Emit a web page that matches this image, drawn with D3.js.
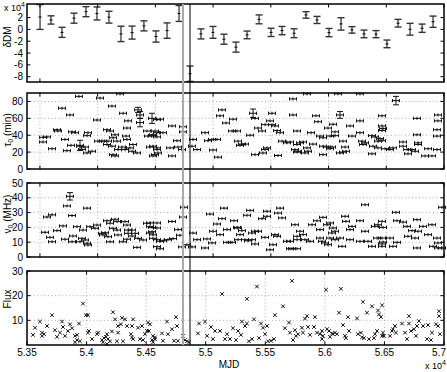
<!DOCTYPE html>
<html>
<head>
<meta charset="utf-8">
<script src="https://cdn.jsdelivr.net/npm/d3@7"></script>
<style>
  body { margin: 0; background: #fff; }
  svg text { font-family: "Liberation Sans Narrow", "Liberation Sans", Arial, sans-serif; fill: #000; }
</style>
</head>
<body>
<div id="chart"></div>
<script>
/**
 * DATA (MJD, values)
 * */
// top panel: DM offsets (x 10^4 units) with errors
const dmMjd = [53501, 53596, 53691, 53795, 53899, 53994, 54098, 54202, 54298, 54401, 54505, 54601, 54705, 54800, 54895, 54999, 55094, 55198, 55294, 55398, 55502, 55597, 55701, 55805, 55900, 56004, 56108, 56203, 56307, 56411, 56506, 56602, 56706, 56810, 56905];
const dmVal = [2.1, 1.6, -0.5, 1.9, 3.0, 2.7, 2.07, -0.76, -0.54, 0.6, -1.2, -0.2, 2.7, -7.5, -0.76, -0.5, -1.66, -3.0, -0.93, 1.7, -0.5, -0.2, -0.65, 2.45, 1.6, -0.54, 0.93, -0.08, -0.76, -0.8, -2.45, 1.05, 0.03, 0.2, 1.3];
const dmErr = [2.1, 0.7, 0.85, 0.85, 0.85, 1.1, 1.0, 1.3, 1.1, 0.85, 0.95, 1.3, 1.35, 1.3, 0.85, 1.0, 0.85, 0.85, 0.65, 0.75, 0.7, 0.7, 0.75, 0.55, 0.6, 0.7, 1.05, 0.55, 0.65, 0.6, 0.65, 0.65, 1.0, 0.7, 0.95];

// tau_0 (min): [mjd, value, vertical error (optional)]
const tauObs = [
  [53527,37.5],[53527,32],[53561,38],[53605,24],[53691,72],[53648,46.5],[53656,45],[53717,35],[53734,21.7],[53760,64],
  [53778,44],[53804,43],[53769,28],[53838,86],[53847,27],[53864,23],[53890,26],[53908,19],[53916,43],[53908,39.5],
  [53951,21],[53847,28,6],[53994,58],[54020,84],[54003,33],[54046,33],[54081,29],[54090,33],[54124,74.5],[54081,46.5],
  [54107,45],[54133,37],[54150,40.5],[54168,33],[54124,27],[54133,17],[54150,15.5],[54176,23],[54194,89],[54211,26],
  [54220,66],[54254,48.5],[54246,39],[54254,35],[54263,57],[54237,23],[54280,25],[54298,21],[54306,29],[54341,19],
  [54350,70,3],[54367,64,4],[54367,55,5],[54427,45],[54436,39],[54471,60,6],[54514,58.5],[54479,40.5],[54514,43],[54479,27],
  [54514,25],[54497,17],
  [54540,59],[54644,51],[54739,50],[54739,44],[54497,45],[54566,43],[54930,43],[55164,45],[55207,45],[55493,57],
  [55510,52.5],[55450,52.5],[55536,51],[55389,48.5],[55424,45],[55554,45.5],[55580,43],[55727,45],[55320,40],[54471,39.5],
  [54514,38],[54687,33.5],[54826,35],[54956,33.5],[54990,35],[55034,35],[55216,33],[55250,29.5],[55276,29.5],[55233,28],
  [55597,33],[55640,31],[55666,32],[55727,29],[54453,26],[54514,23],[54523,19],[54479,15.5],[54627,25],[54696,26],
  [54731,23],[54817,27],[54861,23],[54644,15.5],[54999,22.5],[55042,14],[55363,17],[55450,23],[55467,25],[55432,19],
  [55562,16],[55709,23],[55727,20],[55692,83],[55346,66,5],[55510,66],[55692,64],[55077,70],[55060,63],[55172,59],
  [55112,54.5],[55363,60],
  [55813,89],[56082,89],[56272,89],[56584,81,5],[56099,64,4],[55891,63],[56463,63],[56766,60],[56948,64],[55909,56],
  [56039,53],[56272,57],[56186,51],[56463,51],[56948,57],[55995,48.5],[56472,48],[55848,43],[56056,44],[56463,45.5],
  [56939,46.5],[55926,39],[55952,37],[56013,39],[56056,39.5],[56203,39],[56272,43],[56376,39.5],[56402,38],[56446,36],
  [56766,40.5],[56939,39],[55753,31],[55779,32],[55865,29.5],[56125,33],[56290,33],[56316,31],[56428,33],[56463,33.5],
  [56645,32],[56775,31],[55735,21],[55813,25],[55822,21],[55796,19],[55952,27],[55987,26],[56030,26],[56013,24],
  [56143,26],[56151,21],[56099,19],[56125,20],[55952,17],[56298,29],[56385,27],[56428,25],[56489,24],[56376,18],
  [56532,23],[56558,25],[56680,23],[56688,18],[56723,23],[56749,21],[56645,27],[56862,24],[56836,15.5],[56896,15.5],
  [56939,23],[56775,29]
];

// nu_0 (MHz): [mjd, value, vertical error (optional)]
const nuObs = [
  [53544,16.7],[53561,27],[53605,28.5],[53587,13.3],[53605,10.3],[53648,17.8],[53700,21],[53734,34.5],[53760,41,2.5],[53778,28],
  [53717,12],[53778,10.3],[53786,14.2],[53821,20.5],[53847,10.3],[53864,12.6],[53890,11.5],[53908,9.3],[53916,8.1],[53873,18.2],
  [53908,33],[53934,20.5],[53994,21.6],[53977,19.4],[54038,16],[54046,14.9],[54064,16.4],[54090,13.7],[54107,10.3],[54081,24.5],
  [54107,22.8],[54150,25.5],[54168,23.9],[54133,19.4],[54168,18.2],[54176,14.9],[54237,23.9],[54254,21.6],[54263,18.2],[54220,10.3],
  [54254,12],[54298,18.2],[54298,14.2],[54324,16],[54341,6.5],[54263,16],[54350,12.6],[54393,11.5],[54427,22.8],[54453,20.5],
  [54471,17.1],[54479,12.6],[54514,7],
  [54453,23],[54514,23],[54471,20],[54514,19.6],[54453,16.2],[54479,15],[54696,18.5],[54644,24],[54748,33.6],[54739,27],
  [54514,11.7],[54540,10.6],[54566,11],[54609,11.7],[54653,12.4],[54713,14.7],[54540,5.6],[54731,6.8],[54817,6.8],[54774,8.3],
  [54826,16.2],[54861,11.7],[54930,6.1],[54947,12.2],[54973,29],[54999,17.4],[55034,22.3],[54990,9.5],[55060,15.1],[55077,25.9],
  [55094,33],[55120,18.5],[55120,9.9],[55164,9.9],[55181,24.5],[55207,20],[55216,19.6],[55250,17.8],[55233,15.1],[55216,11.7],
  [55294,28.2],[55320,31.5],[55276,11.7],[55302,11],[55337,16.2],[55363,17.4],[55389,17.4],[55337,11.7],[55363,8.8],[55424,25.9],
  [55467,30.9],[55467,27.5],[55450,13.3],[55493,4.9],[55519,8.3],[55536,15.1],[55554,14],[55562,29.7],[55580,33],[55597,26.4],
  [55640,10.6],[55666,5.6],[55709,21.8],[55727,14],[55727,11.7],[55727,5.6],
  [55666,10.6],[55683,5.6],[55753,17.4],[55779,15.1],[55796,11.7],[55839,10.6],[55857,21.8],[55900,24.5],[55952,26.8],[55926,18.5],
  [55987,21.8],[56013,23],[56039,19.6],[56056,17.4],[56030,16.2],[55926,12.8],[55943,10.6],[55969,9.5],[55995,8.3],[56013,12.8],
  [56056,11.7],[56099,12.8],[56117,7.2],[56143,27.5],[56151,24.1],[56203,20.7],[56186,18.5],[56186,11.7],[56272,24.5],[56316,35.3],
  [56316,17.4],[56272,10.6],[56342,10.6],[56376,7.2],[56420,12.8],[56402,20.7],[56428,21.8],[56463,24.1],[56472,20],[56463,12.8],
  [56472,10.1],[56463,8.8],[56463,7.2],[56532,12.8],[56558,7.2],[56593,9.9],[56584,30.2],[56593,24.5],[56645,23.6],[56680,20.7],
  [56723,17.8],[56688,14],[56749,12.8],[56775,17.4],[56766,25.2],[56766,6.1],[56818,20.7],[56896,21.8],[56862,15.1],[56939,12.8],
  [56948,9.5],[56905,7.2],[56948,6.1],[56983,33.6],[56983,6.1]
];

// flux: [mjd, value]
const fluxObs = [
  [53550,4.1],[53567,7],[53609,9.5],[53626,5],[53643,4.4],[53668,7.7],[53626,3.7],[53710,12.1],[53735,6],[53752,3.3],
  [53777,5],[53794,9.5],[53802,7.3],[53819,3.7],[53844,5.7],[53861,8.4],[53878,6.8],[53903,3.7],[53920,4.1],[53920,2],
  [53903,1.1],[53936,8.7],[53945,1.5],[53970,16.8],[53995,12.1],[54012,12.1],[54012,5],[54020,5.7],[54046,2.4],[54088,4.4],
  [54096,5],[54129,2],[54138,1.1],[54146,2.8],[54163,3.3],[54171,0.4],[54171,4.4],[54180,2.4],[54197,1.5],[54213,5.5],
  [54222,13.3],[54239,10.4],[54255,1.5],[54264,7.7],[54264,5],[54289,8.4],[54297,11],[54306,1.5],[54323,10.4],[54339,7.7],
  [54373,4.4],[54381,7.7],[54390,10.4],[54381,3.1],[54390,2.4],[54432,7],[54448,2.4],[54465,7.7],[54474,2],[54490,4.4],
  [54507,5.7],[54516,9.1],[54532,8.4],[54524,5.7],[54549,2],[54558,3.7],[54574,3.1],
  [54574,2.4],[54558,1.1],[54633,4.7],[54641,1.7],[54675,9.5],[54683,4.4],[54717,6.4],[54734,1.7],[54751,11.3],[54759,7.7],
  [54767,1.7],[54809,3.7],[54826,2],[54843,1.5],[54860,1.1],[54935,4.7],[54944,8.7],[54994,9.5],[55011,3.7],[55044,7.3],
  [55061,2.4],[55078,5.7],[55120,5.7],[55137,20.7],[55162,2.4],[55179,4.4],[55204,2.4],[55229,6.8],[55254,2],[55271,5.7],
  [55296,4.1],[55304,9.5],[55330,7.7],[55346,18.7],[55346,8.7],[55363,1.5],[55388,2.4],[55405,10.4],[55430,23.7],[55447,2.8],
  [55464,8.7],[55481,7],[55498,4.4],[55514,7.7],[55523,1.5],[55548,1.7],[55573,2.4],[55581,12.1],[55649,15.7],[55665,6.8],
  [55699,9.1],[55707,5],[55724,26],[55733,2],[55749,6],[55758,3.7],[55775,4.4],
  [55808,7],[55816,5],[55833,10.7],[55850,11.7],[55858,7.3],[55875,4.1],[55917,11.3],[55909,7.3],[55934,5],[55959,4.4],
  [55976,5.7],[55976,2.4],[55984,3.7],[56010,22.4],[56018,6.4],[56035,5.7],[56043,3.3],[56060,4.7],[56068,4.4],[56085,5],
  [56102,4.4],[56119,13.1],[56135,22.8],[56152,8.1],[56169,3.7],[56177,2.8],[56194,11.3],[56203,5.7],[56270,10.8],[56278,4.4],
  [56303,5],[56320,17.5],[56312,3.1],[56328,2.8],[56354,13.1],[56370,2.4],[56396,15.7],[56412,2.8],[56421,4.4],[56438,5.7],
  [56446,14],[56454,12.4],[56471,11.3],[56480,16.1],[56480,3.7],[56488,5],[56496,3.7],[56547,3.7],[56564,5.7],[56572,6.4],
  [56589,7.7],[56597,5],[56647,8.7],[56673,5],[56689,2.4],[56706,8.7],[56706,11.7],[56723,5.7],[56748,6.4],[56765,3.7],
  [56773,7.7],[56790,9.7],[56824,7.7],[56857,2.4],[56866,8.1],[56891,2],[56899,5],[56933,8.4],[56950,7.7],[56958,13.7],
  [56958,11.7],[56966,4.4]
];

const xErrDays = 30;               // half width of the MJD error bars
const eventMjd = [54739, 54800];   // gray and black marker lines
const xTicks = d3.range(53500, 57001, 500);

/**
 * LAYOUT
 * */
const width = 447, height = 372;
const left = 27, right = 444;
const panels = {
  dm:   { top: 4,   bottom: 82 },
  tau:  { top: 93,  bottom: 169 },
  nu:   { top: 183, bottom: 257 },
  flux: { top: 271, bottom: 345 }
};

const svg = d3.select("#chart").append("svg")
  .attr("width", width)
  .attr("height", height);

// upper three panels share a slightly wider MJD range than the flux panel
const xTop = d3.scaleLinear().domain([53388, 57000]).range([left, right]);
const xFlux = d3.scaleLinear().domain([53500, 57000]).range([left, right]);

function makePanel(p, x, yDomain, yTicks, grid) {
  const y = d3.scaleLinear().domain(yDomain).range([p.bottom, p.top]);
  const g = svg.append("g");

  if (grid) {
    g.selectAll(".gx").data(xTicks.filter(t => x(t) > left + 1 && x(t) < right - 1)).join("line")
      .attr("x1", d => x(d)).attr("x2", d => x(d))
      .attr("y1", p.top).attr("y2", p.bottom)
      .attr("stroke", "#999").attr("stroke-width", 0.8).attr("stroke-dasharray", "1,2.5");
    g.selectAll(".gy").data(yTicks.filter(t => y(t) > p.top + 1 && y(t) < p.bottom - 1)).join("line")
      .attr("x1", left).attr("x2", right)
      .attr("y1", d => y(d)).attr("y2", d => y(d))
      .attr("stroke", "#999").attr("stroke-width", 0.8).attr("stroke-dasharray", "1,2.5");
  }

  const marks = g.append("g");
  const frame = g.append("g");

  frame.append("rect")
    .attr("x", left).attr("y", p.top)
    .attr("width", right - left).attr("height", p.bottom - p.top)
    .attr("fill", "none").attr("stroke", "#000").attr("stroke-width", 1.5);

  // inside ticks on all four sides
  const tl = 3.5;
  xTicks.forEach(t => {
    frame.append("line").attr("x1", x(t)).attr("x2", x(t)).attr("y1", p.bottom).attr("y2", p.bottom - tl).attr("stroke", "#000");
    frame.append("line").attr("x1", x(t)).attr("x2", x(t)).attr("y1", p.top).attr("y2", p.top + tl).attr("stroke", "#000");
  });
  yTicks.forEach(t => {
    frame.append("line").attr("x1", left).attr("x2", left + tl).attr("y1", y(t)).attr("y2", y(t)).attr("stroke", "#000");
    frame.append("line").attr("x1", right).attr("x2", right - tl).attr("y1", y(t)).attr("y2", y(t)).attr("stroke", "#000");
  });

  frame.selectAll(".ytl").data(yTicks).join("text")
    .attr("x", left - 4).attr("y", d => y(d) + 3.5)
    .attr("text-anchor", "end").attr("font-size", 10)
    .text(d => d);

  return { y, marks };
}

/**
 * PANEL 1: DM
 * */
const p1 = makePanel(panels.dm, xTop, [-8.9, 4.3], [-8, -6, -4, -2, 0, 2], false);
dmMjd.forEach((m, i) => {
  const cx = xTop(m), y = p1.y;
  const y0 = Math.max(y(dmVal[i] + dmErr[i]), panels.dm.top), y1 = Math.min(y(dmVal[i] - dmErr[i]), panels.dm.bottom);
  const g = p1.marks.append("g");
  g.append("line").attr("x1", cx).attr("x2", cx).attr("y1", y0).attr("y2", y1).attr("stroke", "#000");
  [y0, y1].forEach(yy => g.append("line").attr("x1", cx - 3.5).attr("x2", cx + 3.5).attr("y1", yy).attr("y2", yy)
    .attr("stroke", "#333").attr("stroke-width", 1.4));
  g.append("line").attr("x1", cx - 1.5).attr("x2", cx + 1.5).attr("y1", y(dmVal[i])).attr("y2", y(dmVal[i])).attr("stroke", "#000");
});

/**
 * PANELS 2, 3: horizontal error bar glyphs
 * */
function errGlyphs(panel, data) {
  data.forEach(d => {
    const cx = xTop(d[0]), cy = panel.y(d[1]);
    const xa = xTop(d[0] - xErrDays), xb = xTop(d[0] + xErrDays);
    const g = panel.marks.append("g").attr("stroke", "#111").attr("stroke-width", 1);
    g.append("line").attr("x1", xa).attr("x2", xb).attr("y1", cy).attr("y2", cy);
    g.append("line").attr("x1", xa).attr("x2", xa).attr("y1", cy - 1.6).attr("y2", cy + 1.6);
    g.append("line").attr("x1", xb).attr("x2", xb).attr("y1", cy - 1.6).attr("y2", cy + 1.6);
    if (d[2]) {
      const ya = panel.y(d[1] + d[2]), yb = panel.y(d[1] - d[2]);
      g.append("line").attr("x1", cx).attr("x2", cx).attr("y1", ya).attr("y2", yb);
      g.append("line").attr("x1", cx - 3).attr("x2", cx + 3).attr("y1", ya).attr("y2", ya);
      g.append("line").attr("x1", cx - 3).attr("x2", cx + 3).attr("y1", yb).attr("y2", yb);
    } else {
      g.append("line").attr("x1", cx).attr("x2", cx).attr("y1", cy - 1.5).attr("y2", cy + 1.5);
    }
  });
}

const p2 = makePanel(panels.tau, xTop, [0, 90], [0, 20, 40, 60, 80], true);
errGlyphs(p2, tauObs);

const p3 = makePanel(panels.nu, xTop, [0, 50], [0, 10, 20, 30, 40, 50], true);
errGlyphs(p3, nuObs);

/**
 * PANEL 4: flux
 * */
const p4 = makePanel(panels.flux, xFlux, [0, 30], [10, 20, 30], true);
p4.marks.selectAll("path").data(fluxObs).join("path")
  .attr("d", d => {
    const cx = xFlux(d[0]), cy = p4.y(d[1]), r = 1.8;
    return `M${cx - r},${cy - r}L${cx + r},${cy + r}M${cx - r},${cy + r}L${cx + r},${cy - r}`;
  })
  .attr("stroke", "#111").attr("stroke-width", 1).attr("fill", "none");

svg.append("g").selectAll("text").data(xTicks).join("text")
  .attr("x", (d, i) => i === xTicks.length - 1 ? width - 1 : xFlux(d))
  .attr("y", panels.flux.bottom + 11)
  .attr("text-anchor", (d, i) => i === xTicks.length - 1 ? "end" : "middle")
  .attr("font-size", 10)
  .text(d => String(+(d / 1e4).toFixed(3)));

/**
 * EVENT LINES across all panels
 * */
svg.append("line")
  .attr("x1", xTop(eventMjd[0])).attr("x2", xTop(eventMjd[0]))
  .attr("y1", panels.dm.top).attr("y2", panels.flux.bottom)
  .attr("stroke", "#aaa").attr("stroke-width", 2);
svg.append("line")
  .attr("x1", xTop(eventMjd[1])).attr("x2", xTop(eventMjd[1]))
  .attr("y1", panels.dm.top).attr("y2", panels.flux.bottom)
  .attr("stroke", "#000").attr("stroke-width", 1);

/**
 * LABELS
 * */
function yLabel(cy, build) {
  const t = svg.append("text")
    .attr("transform", `translate(11, ${cy}) rotate(-90)`)
    .attr("text-anchor", "middle").attr("font-size", 10);
  build(t);
}
yLabel(37, t => t.text("δDM"));
yLabel(130, t => {
  t.append("tspan").text("τ");
  t.append("tspan").attr("font-size", 7).attr("dy", 2).text("0");
  t.append("tspan").attr("dy", -2).text(" (min)");
});
yLabel(214, t => {
  t.append("tspan").text("ν");
  t.append("tspan").attr("font-size", 7).attr("dy", 2).text("0");
  t.append("tspan").attr("dy", -2).text(" (MHz)");
});
yLabel(299, t => t.text("Flux"));

svg.append("text").attr("x", 229).attr("y", 368)
  .attr("text-anchor", "middle").attr("font-size", 10).text("MJD");

function exponent(x, y) {
  const t = svg.append("text").attr("x", x).attr("y", y).attr("font-size", 9);
  t.append("tspan").text("x 10");
  t.append("tspan").attr("font-size", 7).attr("dy", -4).text("4");
}
exponent(4, 11);
exponent(425, 369);
</script>
</body>
</html>
